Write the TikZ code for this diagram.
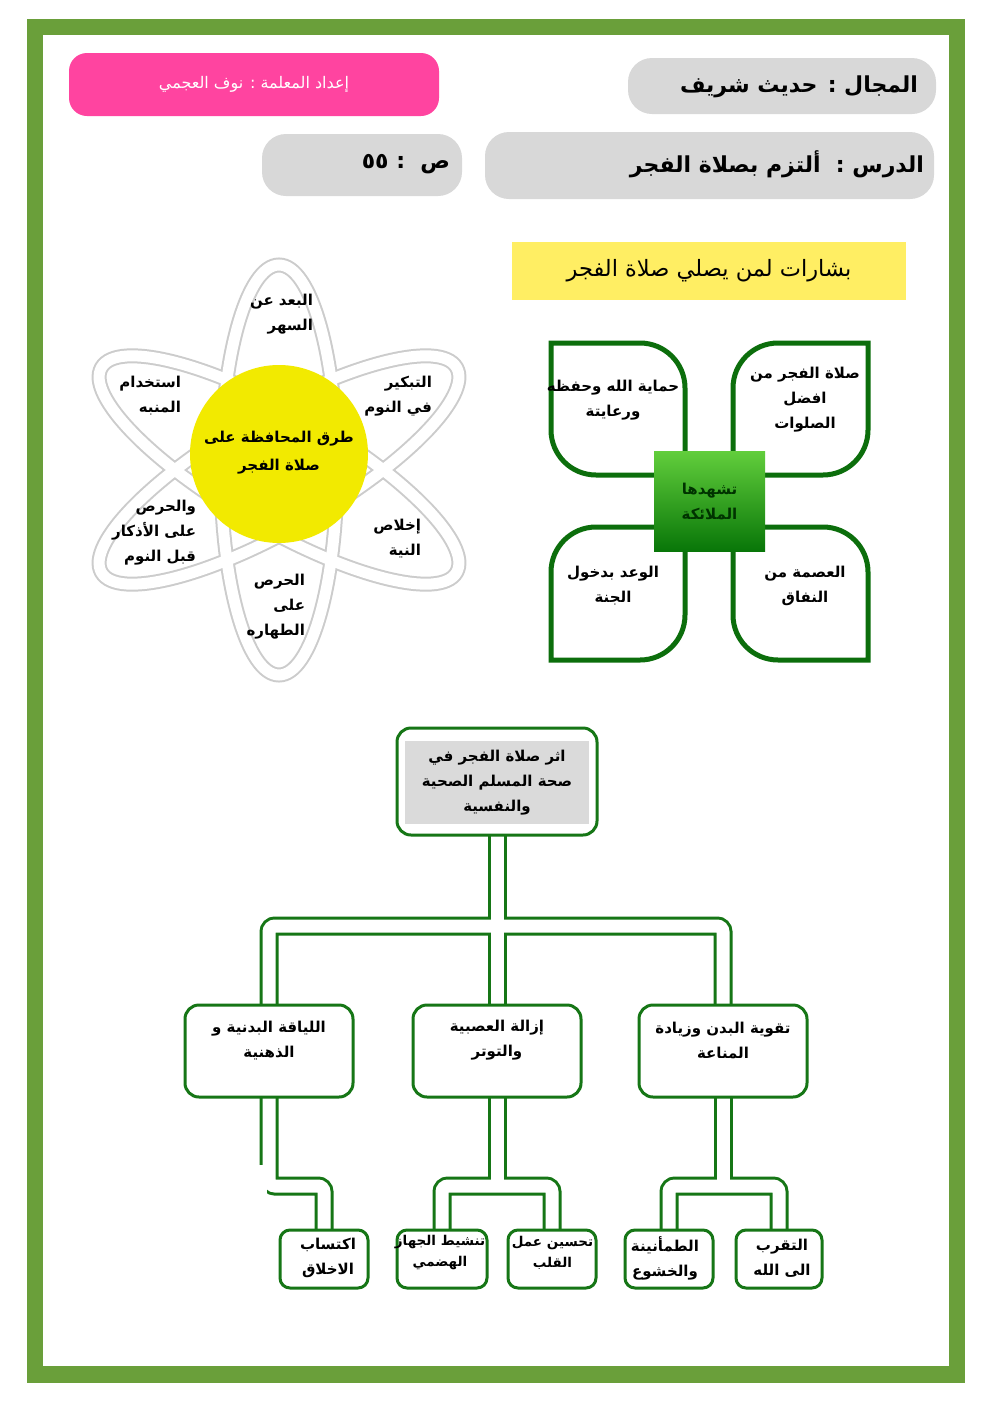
\documentclass[tikz,border=0pt]{standalone}
\usepackage{fontspec}
\usetikzlibrary{calc}
\TeXXeTstate=1
\newfontfamily\arabicfont[Script=Arabic]{DejaVu Sans}
\newcommand\AR[1]{\beginR #1\endR}
\definecolor{framegreen}{RGB}{106,159,58}
\definecolor{pinkc}{RGB}{255,68,160}
\definecolor{hgrey}{RGB}{216,216,216}
\definecolor{ybar}{RGB}{255,238,99}
\definecolor{cyellow}{RGB}{242,234,0}
\definecolor{ribgrey}{RGB}{204,204,204}
\definecolor{leafgreen}{RGB}{12,110,12}
\definecolor{tgreen}{RGB}{22,118,22}
\definecolor{sqtop}{RGB}{98,206,60}
\definecolor{sqbot}{RGB}{8,118,8}
\definecolor{tgrey}{RGB}{218,218,218}
\pgfdeclarelayer{bg}
\pgfdeclarelayer{conn}
\pgfsetlayers{bg,conn,main}
\begin{document}
\begin{tikzpicture}[x=1pt,y=-1pt,
  every node/.style={inner sep=0pt,outer sep=0pt},
  txt/.style={font=\arabicfont\bfseries\fontsize{15}{25}\selectfont,align=center},
  smalltxt/.style={font=\arabicfont\bfseries\fontsize{13.5}{21}\selectfont,align=center},
  lbl/.style={font=\arabicfont\bfseries\fontsize{15}{25}\selectfont,align=right,anchor=north east},
  hdr/.style={fill=hgrey,rounded corners=24},
  hdrt/.style={font=\arabicfont\bfseries\fontsize{22}{26}\selectfont,anchor=east},
  leaf/.style={draw=leafgreen,line width=5pt,fill=white},
  tbox/.style={draw=tgreen,line width=3pt,fill=white,rounded corners=14},
  gbox/.style={draw=tgreen,line width=3pt,fill=white,rounded corners=10,minimum height=58,minimum width=88}]
\useasboundingbox (0,0) rectangle (992,1403);
\begin{pgfonlayer}{bg}
\fill[white] (0,0) rectangle (992,1403);
\fill[framegreen] (27,19) rectangle (965,1383);
\fill[white] (43,35) rectangle (949,1366);
\end{pgfonlayer}

% header
\node[fill=pinkc,rounded corners=18,minimum width=370,minimum height=63] (pink) at (254,84.5) {};
\node[font=\arabicfont\fontsize{16}{18}\selectfont,text=white] (pinkt) at (pink) {\AR{إعداد المعلمة : نوف العجمي}};
\node[hdr,minimum width=308,minimum height=56] (majal) at (782,86) {};
\node[hdrt] (majalt) at ($(majal.east)+(-18,1)$) {\AR{المجال : حديث شريف}};
\node[hdr,minimum width=449,minimum height=67] (dars) at (709.5,165.5) {};
\node[hdrt] (darst) at ($(dars.east)+(-10,-1)$) {\AR{الدرس :\ \ ألتزم بصلاة الفجر}};
\node[hdr,minimum width=200,minimum height=62] (page) at (362,165) {};
\node[hdrt] (paget) at ($(page.east)+(-12,-1)$) {\AR{ص\ \ :\ ٥٥}};

\node[fill=ybar,minimum width=394,minimum height=58,font=\arabicfont\fontsize{22.5}{26}\selectfont] (bishara) at (709,271) {\AR{بشارات لمن يصلي صلاة الفجر}};

% atom
\foreach \a in {0,60,120} \draw[ribgrey,line width=15pt,rotate around={\a:(279,470)}] (279,470) ellipse [x radius=58,y radius=205];
\foreach \a in {0,60,120} \draw[white,line width=11pt,rotate around={\a:(279,470)}] (279,470) ellipse [x radius=58,y radius=205];
\node[circle,fill=cyellow,minimum size=178] (core) at (279,454) {};
\node[txt,font=\arabicfont\bfseries\fontsize{15}{28}\selectfont] (coret) at (279,453) {\AR{طرق المحافظة على}\\\AR{صلاة الفجر}};
\node[lbl] (w1) at (313,294) {\AR{البعد عن}\\\AR{السهر}};
\node[lbl] (w2) at (432,376) {\AR{التبكير}\\\AR{في النوم}};
\node[lbl] (w3) at (421,519) {\AR{إخلاص}\\\AR{النية}};
\node[lbl] (w4) at (305,574) {\AR{الحرص}\\\AR{على}\\\AR{الطهاره}};
\node[lbl] (w5) at (196,500) {\AR{والحرص}\\\AR{على الأذكار}\\\AR{قبل النوم}};
\node[lbl] (w6) at (181,376) {\AR{استخدام}\\\AR{المنبه}};

% leaves
\draw[leaf] (551,343) -- (640,343) arc[start angle=-90,end angle=0,radius=45] -- (685,475) -- (596,475) arc[start angle=90,end angle=180,radius=45] -- cycle;
\draw[leaf] (868,343) -- (868,430) arc[start angle=0,end angle=90,radius=45] -- (733,475) -- (733,388) arc[start angle=180,end angle=270,radius=45] -- cycle;
\draw[leaf] (551,660) -- (551,572) arc[start angle=180,end angle=270,radius=45] -- (685,527) -- (685,615) arc[start angle=0,end angle=90,radius=45] -- cycle;
\draw[leaf] (868,660) -- (778,660) arc[start angle=90,end angle=180,radius=45] -- (733,527) -- (823,527) arc[start angle=270,end angle=360,radius=45] -- cycle;
\node[txt,minimum width=111,minimum height=100,top color=sqtop,bottom color=sqbot,text=black!80!green] (angels) at (709.5,501) {\AR{تشهدها}\\\AR{الملائكة}};
\node[txt] (l1) at (613,400) {\AR{حماية الله وحفظه}\\\AR{ورعايتة}};
\node[txt] (l2) at (805,400) {\AR{صلاة الفجر من}\\\AR{افضل}\\\AR{الصلوات}};
\node[txt] (l3) at (613,586) {\AR{الوعد بدخول}\\\AR{الجنة}};
\node[txt] (l4) at (805,586) {\AR{العصمة من}\\\AR{النفاق}};

% tree
\node[tbox,minimum width=200,minimum height=107] (top) at (497,781.5) {};
\node[txt,fill=tgrey,minimum width=184,minimum height=83] (topt) at (497,782.5) {\AR{اثر صلاة الفجر في}\\\AR{صحة المسلم الصحية}\\\AR{والنفسية}};
\node[tbox,minimum width=168,minimum height=92] (c1) at (269,1051) {};
\node[tbox,minimum width=168,minimum height=92] (c2) at (497,1051) {};
\node[tbox,minimum width=168,minimum height=92] (c3) at (723,1051) {};
\node[txt] (c1t) at (269,1040.5) {\AR{اللياقة البدنية و}\\\AR{الذهنية}};
\node[txt] (c2t) at (497,1040.5) {\AR{إزالة العصبية}\\\AR{والتوتر}};
\node[txt] (c3t) at (723,1040.5) {\AR{تقوية البدن وزيادة}\\\AR{المناعة}};
\node[gbox] (g1) at (324,1259) {};
\node[gbox,minimum width=90] (g2) at (442,1259) {};
\node[gbox] (g3) at (552,1259) {};
\node[gbox] (g4) at (669,1259) {};
\node[gbox,minimum width=86] (g5) at (779,1259) {};
\node[txt] (g1t) at (328,1258) {\AR{اكتساب}\\\AR{الاخلاق}};
\node[smalltxt] (g2t) at (440,1253) {\AR{تنشيط الجهاز}\\\AR{الهضمي}};
\node[smalltxt] (g3t) at (552.5,1253) {\AR{تحسين عمل}\\\AR{القلب}};
\node[txt] (g4t) at (665,1258) {\AR{الطمأنينة}\\\AR{والخشوع}};
\node[txt] (g5t) at (782,1258) {\AR{التقرب}\\\AR{الى الله}};

\coordinate (lvl1) at (0,926);
\coordinate (lvl2) at (0,1186);
\begin{pgfonlayer}{conn}
\foreach \w/\c in {19/tgreen,13/white}{
  \draw[line width=\w pt,\c,rounded corners=6] (c1.north) -- (c1.north |- lvl1) -- (c3.north |- lvl1) -- (c3.north);
  \draw[line width=\w pt,\c] (top.south) -- (c2.north);
  \draw[line width=\w pt,\c,rounded corners=6] (c1.south) -- (c1.south |- lvl2) -| (g1.north);
  \draw[line width=\w pt,\c] (c2.south) -- (c2.south |- lvl2);
  \draw[line width=\w pt,\c,rounded corners=6] (g2.north) -- (g2.north |- lvl2) -- (g3.north |- lvl2) -- (g3.north);
  \draw[line width=\w pt,\c] (c3.south) -- (c3.south |- lvl2);
  \draw[line width=\w pt,\c,rounded corners=6] (g4.north) -- (g4.north |- lvl2) -- (g5.north |- lvl2) -- (g5.north);
}
\fill[white] (255,1165) rectangle (266.5,1198);
\end{pgfonlayer}
\end{tikzpicture}
\end{document}
